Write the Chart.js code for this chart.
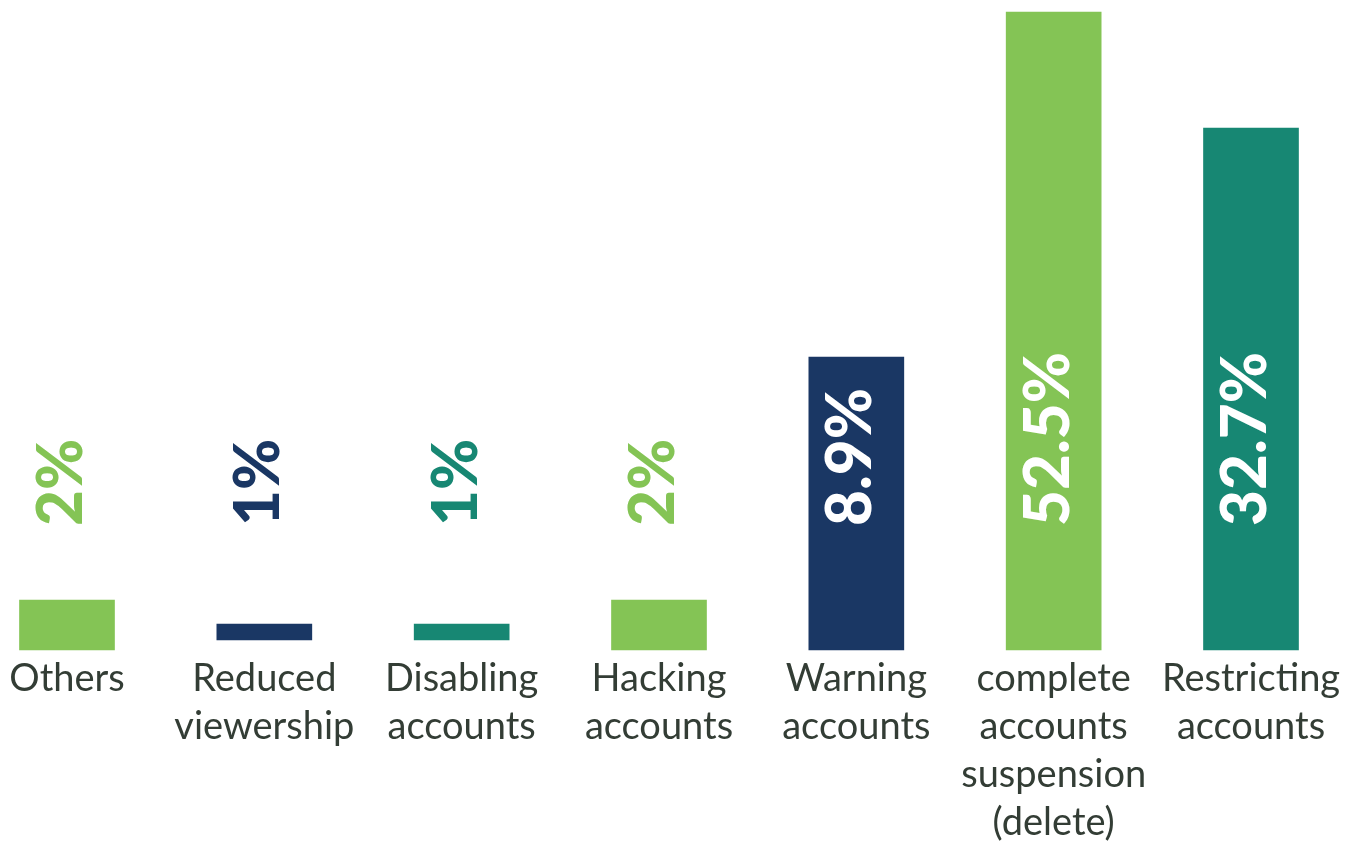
<!DOCTYPE html>
<html>
<head>
<meta charset="utf-8">
<script src="https://cdn.jsdelivr.net/npm/chart.js@4/dist/chart.umd.min.js"></script>
<style>
  body { margin: 0; background: #fff; }
  #wrap { width: 1360px; height: 844px; position: relative; }
</style>
</head>
<body>
<div id="wrap"><canvas id="measuresChart"></canvas></div>
<script>
const categories = [
  'Others',
  ['Reduced', 'viewership'],
  ['Disabling', 'accounts'],
  ['Hacking', 'accounts'],
  ['Warning', 'accounts'],
  ['complete', 'accounts', 'suspension', '(delete)'],
  ['Restricting', 'accounts']
];
// printed shares (%)
const shares = [2, 1, 1, 2, 8.9, 52.5, 32.7];
// drawn bar extents (bars are not to scale)
const barBottom = [0, 10, 10, 0, 0, 0, 0];
const barTop = [50, 26, 26, 50, 293, 638, 522];

const green = '#84c455';
const navy = '#1a3764';
const teal = '#178773';
const barColors = [green, navy, teal, green, navy, green, teal];

const valueLabels = {
  id: 'valueLabels',
  afterDatasetsDraw(chart) {
    const ctx = chart.ctx;
    const y = chart.scales.y.getPixelForValue(124);
    const meta = chart.getDatasetMeta(0);
    ctx.save();
    ctx.font = '900 62px Lato';
    ctx.textAlign = 'left';
    ctx.textBaseline = 'middle';
    meta.data.forEach(function(bar, i) {
      const text = shares[i] + '%';
      const w = ctx.measureText(text).width;
      ctx.fillStyle = bar.y < y - w ? '#ffffff' : barColors[i];
      ctx.save();
      ctx.translate(bar.x - 5, y);
      ctx.rotate(-Math.PI / 2);
      ctx.fillText(text, 0, 0);
      ctx.restore();
    });
    ctx.restore();
  }
};

const ctx = document.getElementById('measuresChart').getContext('2d');
new Chart(ctx, {
  type: 'bar',
  plugins: [valueLabels],
  data: {
    labels: categories,
    datasets: [{
      data: barBottom.map(function(b, i) { return [b, barTop[i]]; }),
      backgroundColor: barColors,
      barThickness: 95,
      borderSkipped: false,
      clip: false
    }]
  },
  options: {
    responsive: true,
    maintainAspectRatio: false,
    animation: false,
    layout: {
      padding: { left: 67, right: 109, top: 0, bottom: 0 }
    },
    scales: {
      x: {
        offset: false,
        grid: { display: false },
        border: { display: false },
        ticks: {
          autoSkip: false,
          maxRotation: 0,
          minRotation: 0,
          padding: -3,
          color: '#333d35',
          font: { family: 'Lato', size: 38, lineHeight: 1.26 }
        },
        afterFit(scale) { scale.height = 194; }
      },
      y: {
        display: false,
        min: 0,
        max: 650
      }
    },
    plugins: {
      legend: { display: false },
      tooltip: { enabled: false }
    }
  }
});
</script>
</body>
</html>
